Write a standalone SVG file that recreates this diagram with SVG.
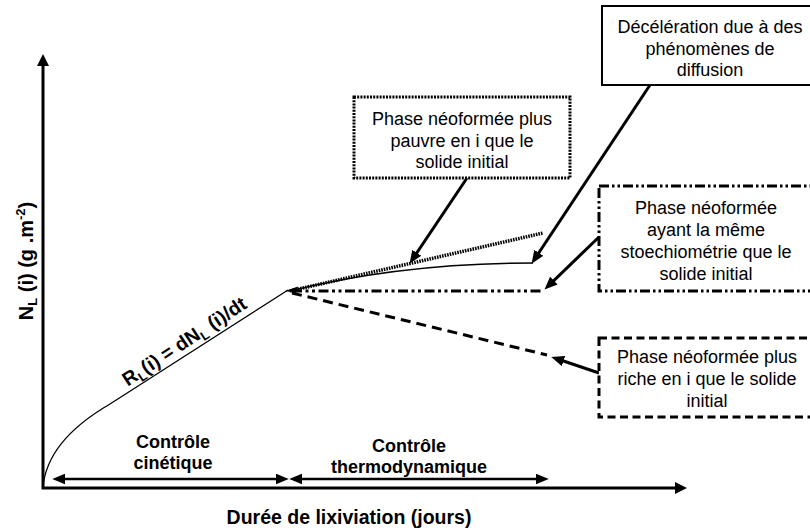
<svg xmlns="http://www.w3.org/2000/svg" width="810" height="531" viewBox="0 0 810 531">
  <defs>
    <marker id="ah" markerUnits="userSpaceOnUse" markerWidth="13" markerHeight="11" refX="3" refY="5" orient="auto-start-reverse" viewBox="0 0 12 10">
      <path d="M0,0 L12,5 L0,10 z" fill="#000"/>
    </marker>
    <marker id="ahAxis" markerUnits="userSpaceOnUse" markerWidth="13" markerHeight="12" refX="3" refY="6" orient="auto-start-reverse" viewBox="0 0 12 12">
      <path d="M0,0 L12,6 L0,12 z" fill="#000"/>
    </marker>
  </defs>
  <style>
    .box { fill: #fff; stroke: #000; }
    .t { font-family: "Liberation Sans", Arial, sans-serif; font-size: 18px; fill: #000; text-anchor: middle; }
    .b { font-family: "Liberation Sans", Arial, sans-serif; font-weight: bold; fill: #000; }
    .conn { fill: none; stroke: #000; stroke-width: 3; marker-end: url(#ah); }
  </style>
  <rect width="810" height="531" fill="#fff"/>

  <!-- axes -->
  <g id="axes">
    <path d="M43,63 L43,488 L678,488" fill="none" stroke="#000" stroke-width="3" marker-start="url(#ahAxis)" marker-end="url(#ahAxis)"/>
    <text class="b" font-size="20" transform="translate(33,261) rotate(-90)" text-anchor="middle">N<tspan font-size="13" dy="4">L</tspan><tspan dy="-4"> (i) (g .m</tspan><tspan font-size="13" dy="-8">-2</tspan><tspan dy="8">)</tspan></text>
    <text class="b" font-size="19.5" x="349" y="524" text-anchor="middle">Durée de lixiviation (jours)</text>
  </g>

  <!-- main curve -->
  <g id="curve">
    <path d="M43,488 C45,460 62,432 110,404 L288,290" fill="none" stroke="#000" stroke-width="1.3"/>
    <text class="b" font-size="19.5" text-anchor="middle" transform="translate(188,347) rotate(-33.5)">R<tspan font-size="13" dy="4">L</tspan><tspan dy="-4">(i) = dN</tspan><tspan font-size="13" dy="4">L</tspan><tspan dy="-4"> (i)/dt</tspan></text>
    <polygon points="285,291 298,286.5 296,293" fill="#000"/>
  </g>

  <!-- branches -->
  <g id="branches" fill="none" stroke="#000">
    <line x1="290" y1="291" x2="543" y2="233" stroke-width="3.5" stroke-dasharray="1.6 1"/>
    <path d="M290,291 C370,271 450,263 533,263" stroke-width="1.6"/>
    <line x1="292" y1="291" x2="543" y2="291" stroke-width="3" stroke-dasharray="10 3.5 3 3.5 3 3.5"/>
    <line x1="292" y1="293" x2="547" y2="355" stroke-width="3" stroke-dasharray="10 6"/>
  </g>

  <!-- control zones -->
  <g id="zones">
    <line x1="62" y1="479" x2="279" y2="479" stroke="#000" stroke-width="2.5" marker-start="url(#ah)" marker-end="url(#ah)"/>
    <line x1="299" y1="479" x2="539" y2="479" stroke="#000" stroke-width="2.5" marker-start="url(#ah)" marker-end="url(#ah)"/>
    <text class="b" font-size="18" text-anchor="middle" x="173" y="448">Contrôle</text>
    <text class="b" font-size="18" text-anchor="middle" x="173" y="469">cinétique</text>
    <text class="b" font-size="18" text-anchor="middle" x="409" y="452">Contrôle</text>
    <text class="b" font-size="18" text-anchor="middle" x="409" y="473">thermodynamique</text>
  </g>

  <!-- connectors -->
  <g id="connectors">
    <line class="conn" x1="467" y1="178" x2="415" y2="255.5"/>
    <line class="conn" x1="650" y1="85" x2="537" y2="255.5"/>
    <line class="conn" x1="599" y1="237" x2="551.5" y2="282.8"/>
    <line class="conn" x1="599" y1="373" x2="560.5" y2="360"/>
  </g>

  <!-- boxes -->
  <g id="box-diffusion">
    <rect class="box" x="602" y="6" width="222" height="79" stroke-width="2"/>
    <text class="t" x="710" y="33">Décélération due à des</text>
    <text class="t" x="710" y="55">phénomènes de</text>
    <text class="t" x="710" y="76">diffusion</text>
  </g>
  <g id="box-pauvre">
    <rect class="box" x="354" y="97" width="216" height="81" stroke-width="3" stroke-dasharray="2 1.2"/>
    <text class="t" x="462" y="125">Phase néoformée plus</text>
    <text class="t" x="462" y="147">pauvre en i que le</text>
    <text class="t" x="462" y="168">solide initial</text>
  </g>
  <g id="box-meme">
    <rect class="box" x="599" y="186" width="225" height="105" stroke-width="3" stroke-dasharray="10 3 2.5 3 2.5 3"/>
    <text class="t" x="706" y="214">Phase néoformée</text>
    <text class="t" x="706" y="236">ayant la même</text>
    <text class="t" x="706" y="258">stoechiométrie que le</text>
    <text class="t" x="706" y="280">solide initial</text>
  </g>
  <g id="box-riche">
    <rect class="box" x="599" y="338" width="225" height="79" stroke-width="3" stroke-dasharray="8 4.5"/>
    <text class="t" x="707" y="363">Phase néoformée plus</text>
    <text class="t" x="707" y="385">riche en i que le solide</text>
    <text class="t" x="707" y="407">initial</text>
  </g>
</svg>
